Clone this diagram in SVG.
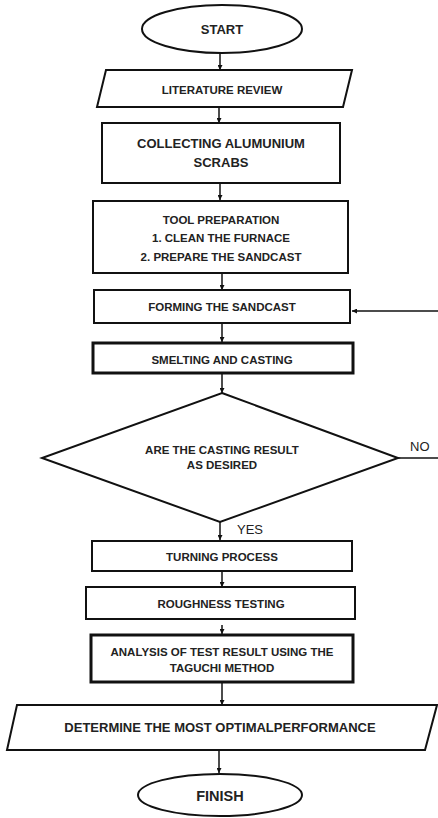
<svg xmlns="http://www.w3.org/2000/svg" width="438" height="818" viewBox="0 0 438 818">
<style>
.n{fill:#fff;stroke:#111;stroke-width:2}
.thick{stroke-width:3}
.t{font-family:"Liberation Sans",Arial,sans-serif;font-weight:bold;font-size:11.5px;fill:#222;text-anchor:middle}
.r{font-family:"Liberation Sans",Arial,sans-serif;font-size:13px;fill:#222}
.c{stroke:#111;stroke-width:1.5;fill:none;marker-end:url(#a)}
</style>
<defs>
<marker id="a" viewBox="0 0 10 10" refX="10" refY="5" markerWidth="5" markerHeight="5" orient="auto" markerUnits="userSpaceOnUse">
<path d="M0,0L10,5L0,10z" fill="#111"/>
</marker>
</defs>
<rect width="438" height="818" fill="#fff"/>
<g id="connectors">
<line class="c" x1="220" y1="53" x2="220" y2="70"/>
<line class="c" x1="219" y1="107" x2="219" y2="123"/>
<line class="c" x1="220" y1="183" x2="220" y2="200"/>
<line class="c" x1="222" y1="273" x2="222" y2="290"/>
<line class="c" x1="222" y1="323" x2="222" y2="342"/>
<line class="c" x1="222" y1="373" x2="222" y2="393"/>
<line class="c" x1="220" y1="522" x2="220" y2="540"/>
<line class="c" x1="222" y1="571" x2="222" y2="587"/>
<line class="c" x1="222" y1="625" x2="222" y2="634"/>
<line class="c" x1="222" y1="682" x2="222" y2="705"/>
<line class="c" x1="219" y1="750" x2="219" y2="773"/>
<line stroke="#111" stroke-width="1.5" x1="398" y1="458" x2="438" y2="458"/>
<line class="c" x1="438" y1="311" x2="352" y2="311"/>
<text class="r" x="410" y="451">NO</text>
<text class="r" x="237" y="534">YES</text>
</g>
<g id="start">
<ellipse class="n" cx="222" cy="29" rx="80" ry="24"/>
<text class="t" x="222" y="34" style="font-size:13px">START</text>
</g>
<g id="literature">
<polygon class="n" points="106,70 352,70 343,107 97,107"/>
<text class="t" x="222" y="94">LITERATURE REVIEW</text>
</g>
<g id="collecting">
<rect class="n" x="102" y="123" width="238" height="60"/>
<text class="t" x="221" y="148" style="font-size:13px">COLLECTING ALUMUNIUM</text>
<text class="t" x="221" y="167" style="font-size:13px">SCRABS</text>
</g>
<g id="tool">
<rect class="n" x="93" y="201" width="255" height="72"/>
<text class="t" x="221" y="224">TOOL PREPARATION</text>
<text class="t" x="221" y="242">1. CLEAN THE FURNACE</text>
<text class="t" x="221" y="261">2. PREPARE THE SANDCAST</text>
</g>
<g id="forming">
<rect class="n" x="94" y="290" width="256" height="33"/>
<text class="t" x="222" y="311">FORMING THE SANDCAST</text>
</g>
<g id="smelting">
<rect class="n thick" x="93" y="343" width="260" height="30"/>
<text class="t" x="222" y="364">SMELTING AND CASTING</text>
</g>
<g id="decision">
<polygon class="n" points="222,393 398,458 220,522 42,458"/>
<text class="t" x="222" y="454">ARE THE CASTING RESULT</text>
<text class="t" x="222" y="469">AS DESIRED</text>
</g>
<g id="turning">
<rect class="n" x="92" y="541" width="260" height="30"/>
<text class="t" x="222" y="561">TURNING PROCESS</text>
</g>
<g id="roughness">
<rect class="n" x="86" y="587" width="269" height="32"/>
<text class="t" x="221" y="608">ROUGHNESS TESTING</text>
</g>
<g id="analysis">
<rect class="n thick" x="91" y="635" width="262" height="47"/>
<text class="t" x="222" y="656">ANALYSIS OF TEST RESULT USING THE</text>
<text class="t" x="222" y="672">TAGUCHI METHOD</text>
</g>
<g id="determine">
<polygon class="n" points="17,705 437,705 425,750 7,750"/>
<text class="t" x="220" y="732" style="font-size:13px">DETERMINE THE MOST OPTIMALPERFORMANCE</text>
</g>
<g id="finish">
<ellipse class="n" cx="220" cy="795" rx="82" ry="21"/>
<text class="t" x="220" y="801" style="font-size:14.5px">FINISH</text>
</g>
</svg>
